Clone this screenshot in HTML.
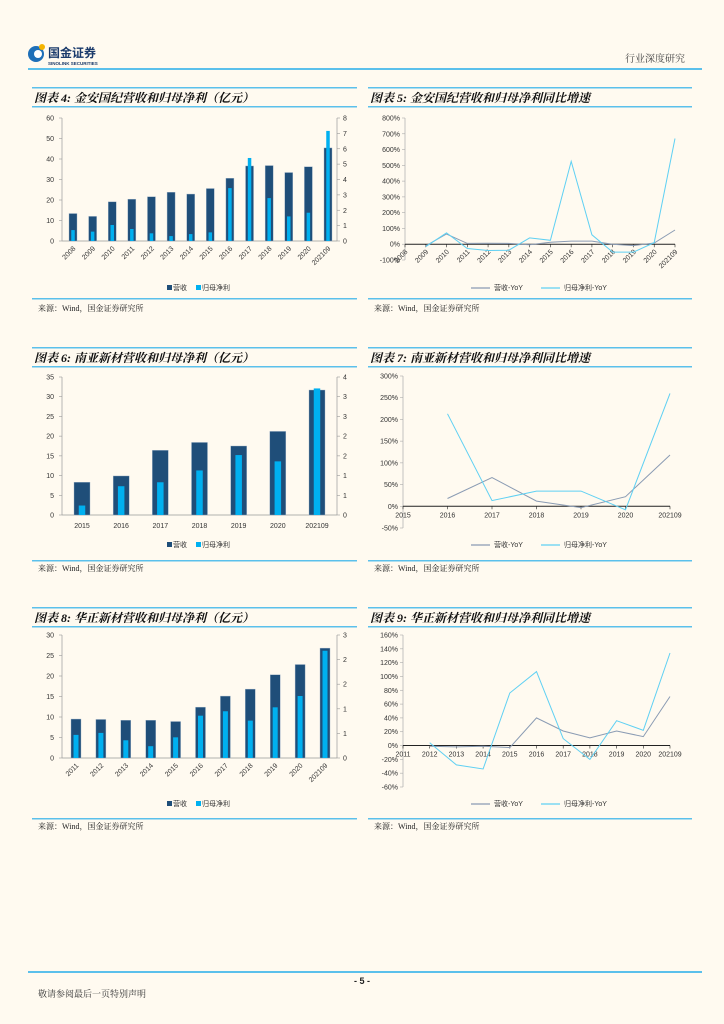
<!DOCTYPE html>
<html><head><meta charset="utf-8">
<style>
body{margin:0;background:#fffaf0;}
svg{display:block;font-family:"Liberation Sans","Noto Sans CJK SC",sans-serif;}
.t{font-family:"Liberation Serif","Noto Serif CJK SC",serif;font-weight:bold;font-style:italic;font-size:12px;fill:#111;}
.tk{font-size:7px;fill:#333;}
.src{font-family:"Liberation Serif","Noto Serif CJK SC",serif;font-size:8px;fill:#222;}
</style></head>
<body>
<svg id="pg" width="724" height="1024" viewBox="0 0 724 1024">
<rect width="724" height="1024" fill="#fffaf0"/>
<g>
<circle cx="36" cy="54" r="8" fill="#1e6fb8"/><circle cx="38" cy="54" r="4" fill="#fff"/><circle cx="42" cy="47" r="3" fill="#f5b400"/>
<text x="48" y="57" font-size="12" font-weight="bold" fill="#1a3a6b" font-family="Liberation Sans,Noto Sans CJK SC,sans-serif">国金证券</text>
<text x="48" y="65" font-size="4.5" font-weight="bold" fill="#1a3a6b">SINOLINK SECURITIES</text>
</g>
<text x="625" y="62" font-size="10" fill="#444" font-family="Liberation Serif,Noto Serif CJK SC,serif">行业深度研究</text>
<rect x="28" y="68" width="674" height="2" fill="#5bc0eb"/>
<rect x="28" y="971" width="674" height="2" fill="#5bc0eb"/>
<text x="362" y="984" font-size="9" font-weight="bold" text-anchor="middle" fill="#222">- 5 -</text>
<text x="38" y="997" font-size="9" fill="#333" font-family="Liberation Serif,Noto Serif CJK SC,serif">敬请参阅最后一页特别声明</text>
</svg>
<script>
// ---- chart data ----
const c4Cats=['2008','2009','2010','2011','2012','2013','2014','2015','2016','2017','2018','2019','2020','202109'];
const c4Rev=[13.4,12,19.1,20.4,21.6,23.8,22.9,25.6,30.6,36.6,36.8,33.4,36.2,45.4];
const c4Net=[0.71,0.61,1.04,0.78,0.5,0.32,0.45,0.56,3.44,5.4,2.79,1.6,1.84,7.16];
const c4L=['0','10','20','30','40','50','60'];
const c4R=['0','1','2','3','4','5','6','7','8'];
const c5RevYoY=[null,-10,65,5,6,5,-3,12,20,20,0,-9,8,90];
const c5NetYoY=[null,-15,72,-27,-40,-38,40,25,525,60,-50,-50,10,670];
const c5Ticks=['-100%','0%','100%','200%','300%','400%','500%','600%','700%','800%'];
const c6Cats=['2015','2016','2017','2018','2019','2020','202109'];
const c6Rev=[8.3,9.9,16.4,18.4,17.5,21.2,31.7];
const c6Net=[0.24,0.73,0.83,1.13,1.52,1.36,3.21];
const c6L=['0','5','10','15','20','25','30','35'];
const c6R=['0','1','1','2','2','3','3','4'];
const c7RevYoY=[null,18,66,12,-3,22,118];
const c7NetYoY=[null,213,13,35,35,-8,260];
const c7Ticks=['-50%','0%','50%','100%','150%','200%','250%','300%'];
const c8Cats=['2011','2012','2013','2014','2015','2016','2017','2018','2019','2020','202109'];
const c8Rev=[9.5,9.4,9.2,9.2,8.9,12.4,15.1,16.8,20.3,22.8,26.8];
const c8Net=[0.47,0.51,0.36,0.24,0.42,0.86,0.95,0.76,1.03,1.26,2.18];
const c8L=['0','5','10','15','20','25','30'];
const c8R=['0','1','1','2','2','3'];
const c9RevYoY=[null,-1,-2,-1,-3,40,21,11,21,13,71];
const c9NetYoY=[null,4,-28,-34,76,107,10,-20,36,22,134];
const c9Ticks=['-60%','-40%','-20%','0%','20%','40%','60%','80%','100%','120%','140%','160%'];

const NS='http://www.w3.org/2000/svg';
const pg=document.getElementById('pg');
function el(tag,attrs,parent,txt){const e=document.createElementNS(NS,tag);for(const k in attrs)e.setAttribute(k,attrs[k]);if(txt!==undefined)e.textContent=txt;(parent||pg).appendChild(e);return e;}

function frame(x0,x1,top,title,bot,srcY){
  const g=el('g',{});
  
  
  el('rect',{x:x0,y:top,width:x1-x0,height:1.5,fill:'#5bc0eb'},g);
  el('rect',{x:x0,y:top+19,width:x1-x0,height:1.5,fill:'#5bc0eb'},g);
  const t=el('text',{x:x0+2,y:top+15,class:'t'},g,title);
  
  
  el('rect',{x:x0,y:bot,width:x1-x0,height:1.5,fill:'#5bc0eb'},g);
  const s=el('text',{x:x0+6,y:srcY,class:'src'},g,'来源：Wind，国金证券研究所');
  
  
  return g;
}

function barChart(o){
  const g=frame(o.fx0,o.fx1,o.top,o.title,o.bot,o.srcY);
  const {xl,xr,y0,yt,cats,rev,net,lmax,rmax,first,last}=o;
  const yl=v=>y0-(v/lmax)*(y0-yt), yr=v=>y0-(v/rmax)*(y0-yt);
  const step=(last-first)/(cats.length-1), xc=i=>first+i*step;
  el('line',{x1:xl,y1:yt,x2:xl,y2:y0,stroke:'#999','stroke-width':0.7},g);
  el('line',{x1:xr,y1:yt,x2:xr,y2:y0,stroke:'#999','stroke-width':0.7},g);
  el('line',{x1:xl,y1:y0,x2:xr,y2:y0,stroke:'#999','stroke-width':0.7},g);
  o.lt.forEach((t,i)=>{const y=y0-i*(y0-yt)/(o.lt.length-1);el('line',{x1:xl-3,y1:y,x2:xl,y2:y,stroke:'#999','stroke-width':0.6},g);
    const e=el('text',{x:xl-8,y:y+2.5,class:'tk','text-anchor':'end'},g,t);
    
    });
  o.rt.forEach((t,i)=>{const y=y0-i*(y0-yt)/(o.rt.length-1);el('line',{x1:xr,y1:y,x2:xr+3,y2:y,stroke:'#999','stroke-width':0.6},g);
    const e=el('text',{x:xr+6,y:y+2.5,class:'tk'},g,t);
    
    });
  cats.forEach((c,i)=>{
    const x=xc(i);
    const b=el('rect',{x:x-o.bw/2,y:yl(rev[i]),width:o.bw,height:y0-yl(rev[i]),fill:'#1f4e79',stroke:'#9fb3c8','stroke-width':0.4},g);
    
    
    const n=el('rect',{x:x-o.nw/2,y:yr(net[i]),width:o.nw,height:y0-yr(net[i]),fill:'#00b0f0'},g);
    
    
    let t;
    if(o.rot){t=el('text',{x:x+3,y:y0+8,class:'tk','text-anchor':'end',transform:`rotate(-45 ${x+3} ${y0+8})`},g,c);}
    else{t=el('text',{x:x,y:y0+13,class:'tk','text-anchor':'middle'},g,c);}
    
    
  });
  const lx=o.legX, ly=o.legY;
  el('rect',{x:lx,y:ly-5,width:5,height:5,fill:'#1f4e79'},g);
  const a=el('text',{x:lx+6,y:ly,class:'tk'},g,'营收');
  
  
  el('rect',{x:lx+29,y:ly-5,width:5,height:5,fill:'#00b0f0'},g);
  const b2=el('text',{x:lx+35,y:ly,class:'tk'},g,'归母净利');
  
  
}

function lineChart(o){
  const g=frame(o.fx0,o.fx1,o.top,o.title,o.bot,o.srcY);
  const {ax,xend,ymax,ymin,ytop,ybot,cats,rev,net}=o;
  const y=v=>ybot-(v-ymin)/(ymax-ymin)*(ybot-ytop);
  const step=(xend-ax)/(cats.length-1), xc=i=>ax+i*step;
  el('line',{x1:ax,y1:ytop,x2:ax,y2:ybot,stroke:'#aaa','stroke-width':0.7},g);
  o.ticks.forEach((t,i)=>{const v=ymin+i*(ymax-ymin)/(o.ticks.length-1);const yy=y(v);
    el('line',{x1:ax-3,y1:yy,x2:ax,y2:yy,stroke:'#aaa','stroke-width':0.6},g);
    const e=el('text',{x:ax-5,y:yy+2.5,class:'tk','text-anchor':'end'},g,t);
    
    });
  el('line',{x1:ax,y1:y(0),x2:xend,y2:y(0),stroke:'#222','stroke-width':1},g);
  cats.forEach((c,i)=>{const x=xc(i);el('line',{x1:x,y1:y(0),x2:x,y2:y(0)+3,stroke:'#222','stroke-width':0.6},g);
    let t;
    if(o.rot){t=el('text',{x:x+3,y:y(0)+8,class:'tk','text-anchor':'end',transform:`rotate(-45 ${x+3} ${y(0)+8})`},g,c);}
    else{t=el('text',{x:x,y:y(0)+11,class:'tk','text-anchor':'middle'},g,c);}
    
    });
  function path(arr,col,name){let d='';arr.forEach((v,i)=>{if(v===null)return;d+=(d?'L':'M')+xc(i).toFixed(1)+','+y(v).toFixed(1);});
    const p=el('path',{d:d,fill:'none',stroke:col,'stroke-width':1},g);
    
    }
  path(rev,'#8a9bb3','revenue-yoy-line');
  path(net,'#5fd0f3','net-profit-yoy-line');
  const ly=o.legY;
  el('line',{x1:471,y1:ly-2,x2:490,y2:ly-2,stroke:'#8a9bb3','stroke-width':1.2},g);
  const a=el('text',{x:494,y:ly,class:'tk'},g,'营收-YoY');
  
  
  el('line',{x1:541,y1:ly-2,x2:560,y2:ly-2,stroke:'#5fd0f3','stroke-width':1.2},g);
  const b=el('text',{x:564,y:ly,class:'tk'},g,'归母净利-YoY');
  
  
}

barChart({fx0:32,fx1:357,top:87,title:'图表 4:  金安国纪营收和归母净利（亿元）',bot:298,srcY:311,
  xl:62,xr:337,y0:241,yt:118,cats:c4Cats,rev:c4Rev,net:c4Net,lmax:60,rmax:8,first:73,last:328,bw:8,nw:3.5,
  lt:c4L,rt:c4R,rot:true,legX:167,legY:290});
lineChart({fx0:368,fx1:692,top:87,title:'图表 5:  金安国纪营收和归母净利同比增速',bot:298,srcY:311,
  ax:405,xend:675,ymin:-100,ymax:800,ytop:118,ybot:260,cats:c4Cats,rev:c5RevYoY,net:c5NetYoY,ticks:c5Ticks,rot:true,legY:290});
barChart({fx0:32,fx1:357,top:347,title:'图表 6:  南亚新材营收和归母净利（亿元）',bot:560,srcY:571,
  xl:62,xr:337,y0:515,yt:377,cats:c6Cats,rev:c6Rev,net:c6Net,lmax:35,rmax:3.5,first:82,last:317,bw:16,nw:6.5,
  lt:c6L,rt:c6R,rot:false,legX:167,legY:547});
lineChart({fx0:368,fx1:692,top:347,title:'图表 7:  南亚新材营收和归母净利同比增速',bot:560,srcY:571,
  ax:403,xend:670,ymin:-50,ymax:300,ytop:376,ybot:528,cats:['2015'].concat(c6Cats.slice(1)),rev:c7RevYoY,net:c7NetYoY,ticks:c7Ticks,rot:false,legY:547});
barChart({fx0:32,fx1:357,top:607,title:'图表 8:  华正新材营收和归母净利（亿元）',bot:818,srcY:829,
  xl:62,xr:337,y0:758,yt:635,cats:c8Cats,rev:c8Rev,net:c8Net,lmax:30,rmax:2.5,first:76,last:325,bw:10,nw:5,
  lt:c8L,rt:c8R,rot:true,legX:167,legY:806});
lineChart({fx0:368,fx1:692,top:607,title:'图表 9:  华正新材营收和归母净利同比增速',bot:818,srcY:829,
  ax:403,xend:670,ymin:-60,ymax:160,ytop:635,ybot:787,cats:c8Cats,rev:c9RevYoY,net:c9NetYoY,ticks:c9Ticks,rot:false,legY:806});
</script>
</body></html>
